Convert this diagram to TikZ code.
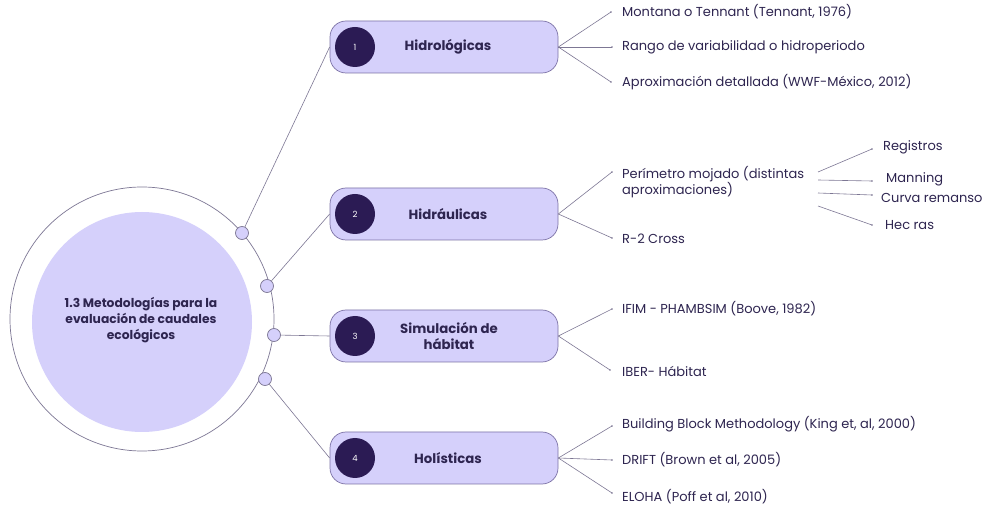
\documentclass[tikz,border=0pt]{standalone}
\usepackage{fontspec}
\setmainfont{Poppins}
\definecolor{lav}{HTML}{D5D0FB}
\definecolor{edge}{HTML}{7C72A6}
\definecolor{dark}{HTML}{2B1B54}
\definecolor{ink}{HTML}{2E2550}
\definecolor{wire}{HTML}{7D7794}
\begin{document}
\begin{tikzpicture}[x=1pt,y=-1pt,
  catbox/.style={draw=edge, line width=0.7pt, fill=lav, rounded corners=16pt, minimum width=228pt, minimum height=52pt, inner sep=0pt},
  numdot/.style={circle, fill=dark, minimum size=40pt, inner sep=0pt, text=white, font=\fontsize{8.5}{9}\selectfont},
  catlabel/.style={text=ink, font=\fontsize{13.3}{15.5}\selectfont\bfseries, align=center},
  leaf/.style={anchor=west, text=ink, font=\fontsize{13}{16}\selectfont, inner sep=0pt, align=left},
  knob/.style={circle, draw=wire, line width=0.7pt, fill=lav, minimum size=13pt, inner sep=0pt},
  wireline/.style={draw=wire, line width=0.6pt},
  tip/.style={circle, fill=wire, inner sep=0pt, minimum size=1.8pt}
]
\useasboundingbox (0,0) rectangle (983,510);
\fill[white] (0,0) rectangle (983,510);

% central circles
\node[circle, draw=wire, line width=0.7pt, minimum size=264pt, inner sep=0pt] (ring) at (142,319) {};
\node[circle, fill=lav, minimum size=220pt, inner sep=0pt] (core) at (142,322) {};
\node[text=ink, font=\fontsize{12.3}{16}\selectfont\bfseries, align=center] (title) at (141,320) {1.3 Metodologías para la\\evaluación de caudales\\ecológicos};

% knobs
\node[knob] (s1) at (242,233) {};
\node[knob] (s2) at (267,286) {};
\node[knob] (s3) at (274,335) {};
\node[knob] (s4) at (265,379) {};

% boxes
\node[catbox] (b1) at (444,47) {};
\node[catbox] (b2) at (444,214) {};
\node[catbox] (b3) at (444,336) {};
\node[catbox] (b4) at (444,458) {};

\node[numdot] (n1) at (355,47) {1};
\node[numdot] (n2) at (355,214) {2};
\node[numdot] (n3) at (355,336) {3};
\node[numdot] (n4) at (355,458) {4};

\node[catlabel] (l1) at (448,47) {Hidrológicas};
\node[catlabel] (l2) at (448,214) {Hidráulicas};
\node[catlabel] (l3) at (449,336) {Simulación de\\hábitat};
\node[catlabel] (l4) at (448,458) {Holísticas};

% knob to box connectors
\draw[wireline] (s1) -- (b1.west);
\draw[wireline] (s2) -- (b2.west);
\draw[wireline] (s3) -- (b3.west);
\draw[wireline] (s4) -- (b4.west);

% leaves: group 1
\coordinate (e11) at (611,12);
\coordinate (e12) at (612,47);
\coordinate (e13) at (611,82);
\node[leaf] (t11) at (622,12) {Montana o Tennant (Tennant, 1976)};
\node[leaf] (t12) at (622,47) {Rango de variabilidad o hidroperiodo};
\node[leaf] (t13) at (622,82) {Aproximación detallada (WWF-México, 2012)};
\foreach \e in {e11,e12,e13}{\draw[wireline] (b1.east) -- (\e); \node[tip] at (\e) {};}

% group 2
\coordinate (e21) at (612,172);
\coordinate (e22) at (612,238);
\node[leaf] (t21) at (622,182) {Perímetro mojado (distintas\\aproximaciones)};
\node[leaf] (t22) at (622,239) {R-2 Cross};
\foreach \e in {e21,e22}{\draw[wireline] (b2.east) -- (\e); \node[tip] at (\e) {};}

% sub-leaves of Perimetro
\coordinate (f1s) at (818,172); \coordinate (f1) at (872,149);
\coordinate (f2s) at (818,180); \coordinate (f2) at (872,181);
\coordinate (f3s) at (818,193); \coordinate (f3) at (872,195);
\coordinate (f4s) at (818,206); \coordinate (f4) at (872,225);
\node[leaf] (u1) at (883,147) {Registros};
\node[leaf] (u2) at (886,179) {Manning};
\node[leaf] (u3) at (881,198) {Curva remanso};
\node[leaf] (u4) at (885,225) {Hec ras};
\foreach \i in {1,2,3,4}{\draw[wireline] (f\i s) -- (f\i); \node[tip] at (f\i) {};}

% group 3
\coordinate (e31) at (612,309);
\coordinate (e32) at (610,370);
\node[leaf] (t31) at (622,309) {IFIM - PHAMBSIM (Boove, 1982)};
\node[leaf] (t32) at (622,371) {IBER- Hábitat};
\foreach \e in {e31,e32}{\draw[wireline] (b3.east) -- (\e); \node[tip] at (\e) {};}

% group 4
\coordinate (e41) at (612,426);
\coordinate (e42) at (612,460);
\coordinate (e43) at (612,493);
\node[leaf] (t41) at (622,424) {Building Block Methodology (King et, al, 2000)};
\node[leaf] (t42) at (622,460) {DRIFT (Brown et al, 2005)};
\node[leaf] (t43) at (622,497) {ELOHA (Poff et al, 2010)};
\foreach \e in {e41,e42,e43}{\draw[wireline] (b4.east) -- (\e); \node[tip] at (\e) {};}
\end{tikzpicture}
\end{document}
